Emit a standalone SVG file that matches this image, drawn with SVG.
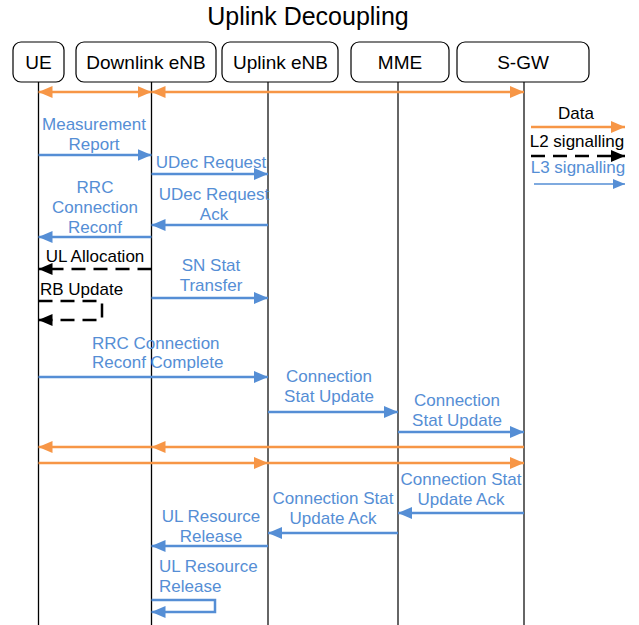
<svg xmlns="http://www.w3.org/2000/svg" width="639" height="625" viewBox="0 0 639 625">
<style>
text{font-family:"Liberation Sans",Arial,sans-serif;}
.title{font-size:25px;fill:#000;text-anchor:middle;}
.box{fill:#fff;stroke:#000;stroke-width:1.2;}
.bt{font-size:19px;fill:#000;text-anchor:middle;}
.lb{font-size:17px;fill:#558ED5;text-anchor:middle;}
.lk{font-size:17px;fill:#000;text-anchor:middle;}
.ll1{stroke:#000;stroke-width:1.3;}
.ll2{stroke:#666;stroke-width:2;}
.blue{stroke:#558ED5;stroke-width:2.5;fill:none;marker-end:url(#ab);}
.org{stroke:#F79646;stroke-width:2.5;fill:none;}
.dash{stroke:#000;stroke-width:2.5;fill:none;stroke-dasharray:14 8;marker-end:url(#ak);}
</style>
<defs>
<marker id="ab" markerUnits="userSpaceOnUse" markerWidth="14" markerHeight="12" viewBox="0 0 14 12" refX="14" refY="6" orient="auto"><path d="M0,0 L14,6 L0,12 z" fill="#558ED5"/></marker>
<marker id="ao" markerUnits="userSpaceOnUse" markerWidth="14" markerHeight="12" viewBox="0 0 14 12" refX="14" refY="6" orient="auto"><path d="M0,0 L14,6 L0,12 z" fill="#F79646"/></marker>
<marker id="aos" markerUnits="userSpaceOnUse" markerWidth="14" markerHeight="12" viewBox="0 0 14 12" refX="14" refY="6" orient="auto-start-reverse"><path d="M0,0 L14,6 L0,12 z" fill="#F79646"/></marker>
<marker id="ak" markerUnits="userSpaceOnUse" markerWidth="14" markerHeight="12" viewBox="0 0 14 12" refX="14" refY="6" orient="auto"><path d="M0,0 L14,6 L0,12 z" fill="#000"/></marker>
<marker id="ab2" markerUnits="userSpaceOnUse" markerWidth="12" markerHeight="10" viewBox="0 0 12 10" refX="12" refY="5" orient="auto"><path d="M0,0 L12,5 L0,10 z" fill="#558ED5"/></marker>
</defs>
<text class="title" x="308" y="25">Uplink Decoupling</text>
<g id="lifelines">
<line class="ll1" x1="38.5" y1="82" x2="38.5" y2="625"/>
<line class="ll1" x1="151.5" y1="82" x2="151.5" y2="625"/>
<line class="ll2" x1="268" y1="82" x2="268" y2="625"/>
<line class="ll2" x1="398" y1="82" x2="398" y2="625"/>
<line class="ll2" x1="524" y1="82" x2="524" y2="625"/>
</g>
<g id="ue"><rect class="box" x="13" y="42" width="51" height="40" rx="8"/><text class="bt" x="38.5" y="69">UE</text></g>
<g id="dlenb"><rect class="box" x="76" y="42" width="140" height="40" rx="8"/><text class="bt" x="146" y="69">Downlink eNB</text></g>
<g id="ulenb"><rect class="box" x="222" y="42" width="116" height="40" rx="8"/><text class="bt" x="280.5" y="69">Uplink eNB</text></g>
<g id="mme"><rect class="box" x="351" y="42" width="98" height="40" rx="8"/><text class="bt" x="400" y="69">MME</text></g>
<g id="sgw"><rect class="box" x="457" y="42" width="132" height="40" rx="8"/><text class="bt" x="523" y="69">S-GW</text></g>
<g id="connectors">
<line class="org" x1="38.5" y1="92" x2="151.5" y2="92" marker-start="url(#aos)" marker-end="url(#ao)"/>
<line class="org" x1="151.5" y1="92" x2="524" y2="92" marker-start="url(#aos)" marker-end="url(#ao)"/>
<line class="blue" x1="38.5" y1="155" x2="151.5" y2="155"/>
<line class="blue" x1="151.5" y1="174" x2="268" y2="174"/>
<line class="blue" x1="268" y1="225" x2="151.5" y2="225"/>
<line class="blue" x1="151.5" y1="237" x2="38.5" y2="237"/>
<line class="dash" x1="151.5" y1="269" x2="38.5" y2="269"/>
<path class="dash" d="M38.5,301 H102 V320 H38.5"/>
<line class="blue" x1="151.5" y1="298" x2="268" y2="298"/>
<line class="blue" x1="38.5" y1="377" x2="268" y2="377"/>
<line class="blue" x1="268" y1="412" x2="398" y2="412"/>
<line class="blue" x1="398" y1="432" x2="524" y2="432"/>
<line class="org" x1="524" y1="447" x2="151.5" y2="447" marker-end="url(#ao)"/>
<line class="org" x1="151.5" y1="447" x2="38.5" y2="447" marker-end="url(#ao)"/>
<line class="org" x1="38.5" y1="463" x2="268" y2="463" marker-end="url(#ao)"/>
<line class="org" x1="268" y1="463" x2="524" y2="463" marker-end="url(#ao)"/>
<line class="blue" x1="524" y1="513" x2="398" y2="513"/>
<line class="blue" x1="398" y1="533" x2="268" y2="533"/>
<line class="blue" x1="268" y1="546" x2="151.5" y2="546"/>
<path class="blue" d="M151.5,600 H215 V612 H151.5"/>
</g>
<g id="labels">
<text class="lb" x="94" y="130">Measurement</text>
<text class="lb" x="94" y="150">Report</text>
<text class="lb" x="211" y="168">UDec Request</text>
<text class="lb" x="214" y="200">UDec Request</text>
<text class="lb" x="214" y="220">Ack</text>
<text class="lb" x="95" y="193">RRC</text>
<text class="lb" x="95" y="213">Connection</text>
<text class="lb" x="95" y="233">Reconf</text>
<text class="lk" x="95" y="262">UL Allocation</text>
<text class="lk" x="40" y="295" style="text-anchor:start">RB Update</text>
<text class="lb" x="211" y="271">SN Stat</text>
<text class="lb" x="211" y="291">Transfer</text>
<text class="lb" x="92" y="349" style="text-anchor:start">RRC Connection</text>
<text class="lb" x="92" y="368" style="text-anchor:start">Reconf Complete</text>
<text class="lb" x="329" y="382">Connection</text>
<text class="lb" x="329" y="402">Stat Update</text>
<text class="lb" x="457" y="406">Connection</text>
<text class="lb" x="457" y="426">Stat Update</text>
<text class="lb" x="461" y="485">Connection Stat</text>
<text class="lb" x="461" y="505">Update Ack</text>
<text class="lb" x="333" y="504">Connection Stat</text>
<text class="lb" x="333" y="524">Update Ack</text>
<text class="lb" x="211" y="522">UL Resource</text>
<text class="lb" x="211" y="542">Release</text>
<text class="lb" x="159" y="572" style="text-anchor:start">UL Resource</text>
<text class="lb" x="159" y="592" style="text-anchor:start">Release</text>
</g>
<g id="legend">
<text class="lk" x="576" y="119">Data</text>
<line class="org" x1="531" y1="127" x2="625" y2="127" marker-end="url(#ao)"/>
<text class="lk" x="577" y="147">L2 signalling</text>
<line class="dash" x1="531" y1="156" x2="625" y2="156"/>
<text class="lb" x="578" y="173">L3 signalling</text>
<line x1="534" y1="184" x2="625" y2="184" stroke="#558ED5" stroke-width="1.5" marker-end="url(#ab2)"/>
</g>
</svg>
